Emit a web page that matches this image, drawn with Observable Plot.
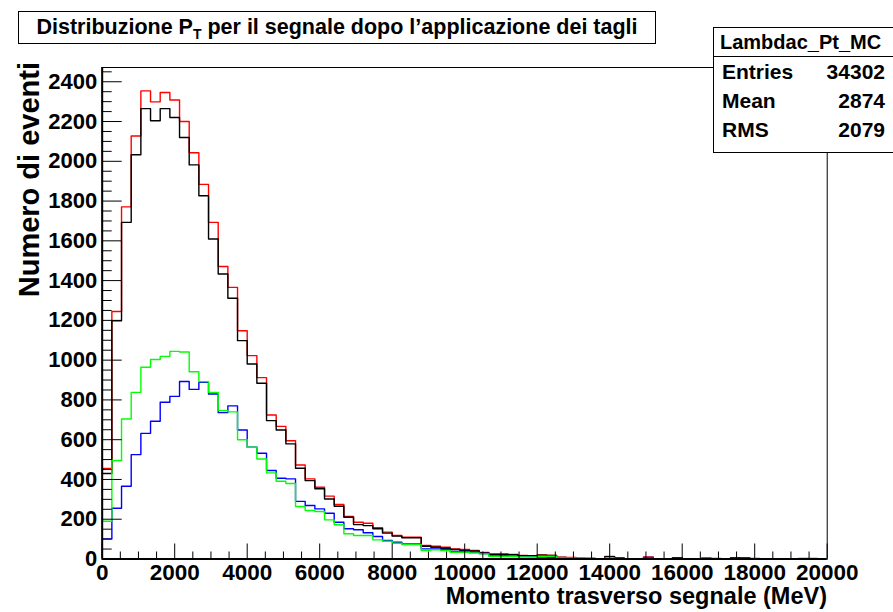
<!DOCTYPE html>
<html>
<head>
<meta charset="utf-8">
<script src="https://cdn.jsdelivr.net/npm/d3@7"></script>
<script src="https://cdn.jsdelivr.net/npm/@observablehq/plot@0.6"></script>
<style>
  body { margin: 0; background: #fff; }
  #wrap { position: relative; width: 893px; height: 612px; overflow: hidden; font-family: "Liberation Sans", Arial, sans-serif; font-weight: bold; color: #000; }
  #wrap svg { position: absolute; left: 0; top: 0; }
  .box { position: absolute; background: #fff; border: 1px solid #000; box-sizing: border-box; }
  #title { left: 18px; top: 11px; width: 638px; height: 33px; font-size: 21.5px; text-align: center; line-height: 30px; white-space: nowrap; }
  #title sub { font-size: 14px; vertical-align: -5px; line-height: 0; }
  #stats { left: 713px; top: 27px; width: 182px; height: 126px; }
  #stats .hd { height: 28px; border-bottom: 1px solid #000; font-size: 20px; line-height: 28px; padding-left: 6px; white-space: nowrap; }
  #stats .row { display: flex; justify-content: space-between; padding: 0 9px 0 8px; font-size: 21px; height: 29px; line-height: 30px; }
  #ytitle { position: absolute; left: 13px; top: 298px; width: 236px; height: 32px; line-height: 32px; font-size: 29px; text-align: right; transform-origin: 0 0; transform: rotate(-90deg); white-space: nowrap; }
  #xtitle { position: absolute; right: 66px; top: 583px; font-size: 23.5px; line-height: 26px; white-space: nowrap; }
</style>
</head>
<body>
<div id="wrap"></div>
<script>
// Histogram: 75 bins between 0 and 20000 MeV
const xMin = 0, xMax = 20000, nBins = 75;

const redCounts = [455,1245,1771,2127,2354,2299,2346,2308,2200,2043,1884,1693,1471,1366,1148,1023,912,724,667,595,
  473,403,361,316,274,214,185,180,157,135,118,110,110,68,64,59,51,48,43,33,
  25,25,23,18,17,20,18,9,8,4,3,2,13,4,2,1,10,2,1,7,
  1,2,4,3,1,6,5,3,1,0,1,0,3,3,1];
const blackCounts = [430,1198,1693,2033,2265,2204,2265,2220,2120,1982,1827,1609,1433,1311,1098,981,884,696,649,579,
  456,394,353,302,265,210,173,168,152,130,115,107,107,64,59,54,48,43,40,31,
  23,23,22,17,16,19,18,8,7,3,3,2,12,3,2,1,5,2,1,4,
  1,2,3,2,1,3,3,2,1,0,1,0,2,2,1];
const blueCounts = [101,255,366,525,632,693,788,818,893,853,888,830,736,770,649,562,532,445,406,403,
  290,269,252,230,185,152,147,132,113,93,84,76,76,51,51,48,38,38,34,28,
  17,15,14,13,12,10,9,5,5,2,2,1,3,5,1,1,8,1,0,6,
  1,1,3,2,0,6,5,2,0,0,1,0,2,2,0];
const greenCounts = [190,495,704,838,964,1003,1019,1044,1041,942,892,838,746,740,600,562,503,433,391,380,
  264,244,239,197,172,127,118,118,96,89,79,73,73,43,46,43,34,34,30,26,
  14,12,12,10,10,14,14,5,5,3,3,2,4,2,1,0,3,1,0,2,
  1,0,1,1,0,2,2,1,0,0,0,0,1,1,0];

const xMajorTicks = [0,2000,4000,6000,8000,10000,12000,14000,16000,18000,20000];
const yMajorTicks = [0,200,400,600,800,1000,1200,1400,1600,1800,2000,2200,2400];

const titleText = "Distribuzione P";
const titleSub = "T";
const titleRest = " per il segnale dopo l\u2019applicazione dei tagli";
const statsName = "Lambdac_Pt_MC";
const statsLabels = ["Entries", "Mean", "RMS"];
const statsValues = ["34302", "2874", "2079"];
const xTitle = "Momento trasverso segnale (MeV)";
const yTitle = "Numero di eventi";

const binW = (xMax - xMin) / nBins;
function steps(counts) {
  const pts = counts.map((c, i) => ({x: xMin + i * binW, y: c}));
  pts.push({x: xMax, y: counts[counts.length - 1]});
  return pts;
}
const xMinor = d3.range(xMin, xMax + 1, 500).filter(v => v % 2000 !== 0);
const yMinor = d3.range(0, 2451, 50).filter(v => v % 200 !== 0);

const font = "Liberation Sans, Arial, sans-serif";
const series = [
  {c: redCounts, col: "#ff0000"},
  {c: blackCounts, col: "#000000"},
  {c: blueCounts, col: "#0000ff"},
  {c: greenCounts, col: "#00ff00"}
];

const chart = Plot.plot({
  width: 893,
  height: 612,
  marginLeft: 101.7,
  marginRight: 66.3,
  marginTop: 67,
  marginBottom: 53.5,
  style: {fontFamily: font, background: "transparent", overflow: "visible"},
  x: {domain: [xMin, xMax]},
  y: {domain: [0, d3.max(redCounts) * 1.05]},
  marks: [
    Plot.frame({stroke: "#000", strokeWidth: 1}),
    ...series.map(s => Plot.line(steps(s.c), {x: "x", y: "y", curve: "step-after", stroke: s.col, strokeWidth: 1.4})),
    Plot.ruleX(xMajorTicks, {x: d => d, y1: 0, y2: 0, insetTop: -15, stroke: "#000", strokeWidth: 1}),
    Plot.ruleX(xMinor, {x: d => d, y1: 0, y2: 0, insetTop: -7, stroke: "#000", strokeWidth: 1}),
    Plot.ruleY(yMajorTicks, {y: d => d, x1: 0, x2: 0, insetRight: -20, stroke: "#000", strokeWidth: 1}),
    Plot.ruleY(yMinor, {y: d => d, x1: 0, x2: 0, insetRight: -10, stroke: "#000", strokeWidth: 1}),
    Plot.ruleY([0], {stroke: "#000", strokeWidth: 2}),
    Plot.ruleX([0], {stroke: "#000", strokeWidth: 2}),
    Plot.axisX({ticks: xMajorTicks, anchor: "bottom", tickSize: 0, tickPadding: 5, tickFormat: d3.format("d"), fontSize: 22.5, fontWeight: "bold", label: null, fill: "#000"}),
    Plot.axisY({ticks: yMajorTicks, anchor: "left", tickSize: 0, tickPadding: 5, tickFormat: d3.format("d"), fontSize: 22, fontWeight: "bold", label: null, fill: "#000"})
  ]
});

const wrap = document.getElementById("wrap");
wrap.appendChild(chart);

const t = document.createElement("div");
t.className = "box"; t.id = "title";
t.append(titleText);
const sub = document.createElement("sub"); sub.textContent = titleSub; t.append(sub);
t.append(titleRest);
wrap.appendChild(t);

const st = document.createElement("div");
st.className = "box"; st.id = "stats";
const hd = document.createElement("div"); hd.className = "hd"; hd.textContent = statsName; st.appendChild(hd);
statsLabels.forEach((l, i) => {
  const r = document.createElement("div"); r.className = "row";
  const a = document.createElement("span"); a.textContent = l;
  const b = document.createElement("span"); b.textContent = statsValues[i];
  r.append(a, b); st.appendChild(r);
});
wrap.appendChild(st);

const yt = document.createElement("div"); yt.id = "ytitle"; yt.textContent = yTitle; wrap.appendChild(yt);
const xt = document.createElement("div"); xt.id = "xtitle"; xt.textContent = xTitle; wrap.appendChild(xt);
</script>
</body>
</html>
